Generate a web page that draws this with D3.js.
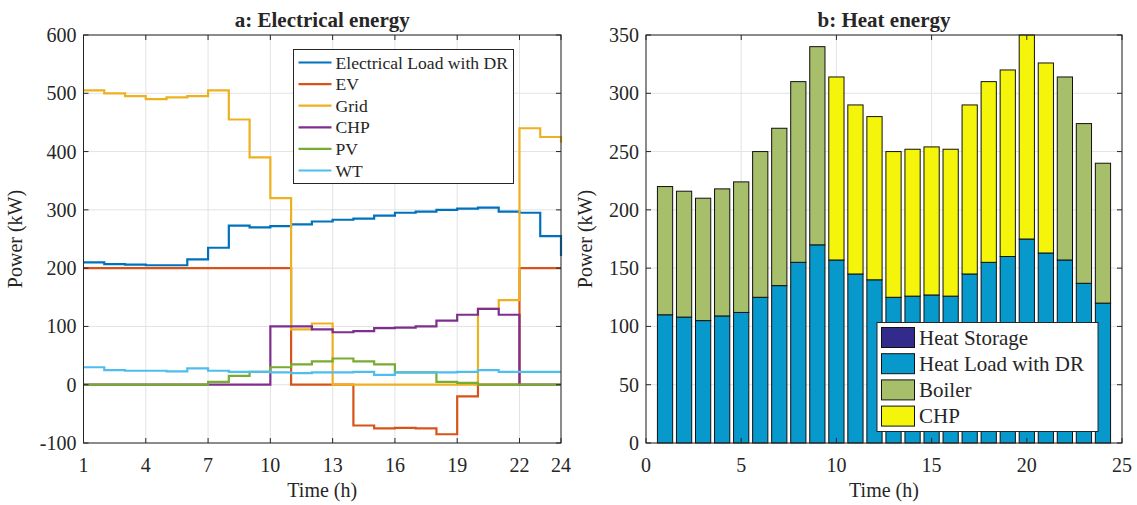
<!DOCTYPE html>
<html>
<head>
<meta charset="utf-8">
<script src="https://cdn.jsdelivr.net/npm/d3@7/dist/d3.min.js"></script>
<style>
  body { margin: 0; background: #fff; }
  text { font-family: "Liberation Serif", "Times New Roman", serif; fill: #262626; }
</style>
</head>
<body>
<div id="chart"></div>
<script>
// hours of the day
var hours = [1, 2, 3, 4, 5, 6, 7, 8, 9, 10, 11, 12, 13, 14, 15, 16, 17, 18, 19, 20, 21, 22, 23, 24];

// a: electrical energy (kW)
var elecLoad = [210, 207, 206, 205, 205, 215, 235, 273, 270, 272, 275, 280, 283, 285, 290, 295, 297, 300, 302, 304, 297, 295, 255, 221];
var evPower  = [200, 200, 200, 200, 200, 200, 200, 200, 200, 200, 0, 0, 0, -70, -75, -74, -75, -85, -20, 0, 0, 200, 200, 200];
var gridPower = [505, 500, 495, 490, 493, 495, 505, 455, 390, 320, 95, 105, 0, 0, 0, 0, 0, 0, 0, 130, 145, 440, 425, 415];
var chpElec  = [0, 0, 0, 0, 0, 0, 0, 0, 0, 100, 100, 95, 90, 92, 97, 98, 100, 110, 120, 130, 120, 0, 0, 0];
var pvPower  = [0, 0, 0, 0, 0, 0, 5, 15, 22, 30, 35, 40, 45, 40, 35, 21, 21, 5, 3, 0, 0, 0, 0, 0];
var wtPower  = [30, 25, 24, 24, 23, 28, 24, 22, 22, 21, 20, 21, 21, 22, 17, 21, 21, 21, 22, 25, 22, 22, 22, 22];
var elecNames = ["Electrical Load with DR", "EV", "Grid", "CHP", "PV", "WT"];

// b: heat energy (kW), stacked bottom to top
var heatStorage = [0, 0, 0, 0, 0, 0, 0, 0, 0, 0, 0, 0, 0, 0, 0, 0, 0, 0, 0, 0, 0, 0, 0, 0];
var heatLoad = [110, 108, 105, 109, 112, 125, 135, 155, 170, 157, 145, 140, 125, 126, 127, 126, 145, 155, 160, 175, 163, 157, 137, 120];
var boilerHeat = [110, 108, 105, 109, 112, 125, 135, 155, 170, 0, 0, 0, 0, 0, 0, 0, 0, 0, 0, 0, 0, 157, 137, 120];
var chpHeat  = [0, 0, 0, 0, 0, 0, 0, 0, 0, 157, 145, 140, 125, 126, 127, 126, 145, 155, 160, 175, 163, 0, 0, 0];
var heatNames = ["Heat Storage", "Heat Load with DR", "Boiler", "CHP"];

// ticks
var elecTicksX = [1, 4, 7, 10, 13, 16, 19, 22, 24];
var elecTicksY = [-100, 0, 100, 200, 300, 400, 500, 600];
var heatTicksX = [0, 5, 10, 15, 20, 25];
var heatTicksY = [0, 50, 100, 150, 200, 250, 300, 350];

var W = 1137, H = 505,
    yTop = 35, yBot = 443,
    axisCol = "#262626", gridCol = "#e3e3e3",
    lineCols = ["#0072BD", "#D95319", "#EDB120", "#7E2F8E", "#77AC30", "#4DBEEE"],
    barCols = ["#322b8c", "#0899cc", "#a7bf6a", "#f5f50c"];

var svg = d3.select("#chart").append("svg")
    .attr("width", W)
    .attr("height", H)
    .style("background", "#fff");

// grid + labels, matlab style
function frame(g, x, y, xt, yt, title, cx) {
  var x0 = x.range()[0], x1 = x.range()[1];
  g.selectAll(".gx").data(xt).enter().append("line")
    .attr("x1", function(d){ return x(d); }).attr("x2", function(d){ return x(d); })
    .attr("y1", yTop).attr("y2", yBot)
    .style("stroke", gridCol);
  g.selectAll(".gy").data(yt).enter().append("line")
    .attr("x1", x0).attr("x2", x1)
    .attr("y1", function(d){ return y(d); }).attr("y2", function(d){ return y(d); })
    .style("stroke", gridCol);

  g.selectAll(".tx").data(xt).enter().append("text")
    .attr("x", function(d){ return x(d); })
    .attr("y", 472)
    .attr("text-anchor", "middle")
    .style("font-size", "20px")
    .text(function(d){ return d; });
  g.selectAll(".ty").data(yt).enter().append("text")
    .attr("x", x0 - 7)
    .attr("y", function(d){ return y(d) + 7; })
    .attr("text-anchor", "end")
    .style("font-size", "20px")
    .text(function(d){ return d; });

  g.append("text")
    .attr("x", (x0 + x1) / 2).attr("y", 497)
    .attr("text-anchor", "middle")
    .style("font-size", "20px")
    .text("Time (h)");
  g.append("text")
    .attr("transform", "translate(" + cx + "," + ((yTop + yBot) / 2) + ") rotate(-90)")
    .attr("text-anchor", "middle")
    .style("font-size", "20px")
    .text("Power (kW)");
  g.append("text")
    .attr("x", (x0 + x1) / 2).attr("y", 27)
    .attr("text-anchor", "middle")
    .style("font-size", "21px")
    .style("font-weight", "bold")
    .text(title);
}

// box with inward ticks on all sides
function box(g, x, y, xt, yt) {
  var x0 = x.range()[0], x1 = x.range()[1], tl = 5;
  g.append("rect")
    .attr("x", x0).attr("y", yTop)
    .attr("width", x1 - x0).attr("height", yBot - yTop)
    .style("fill", "none").style("stroke", axisCol);
  xt.forEach(function(d){
    g.append("line").attr("x1", x(d)).attr("x2", x(d)).attr("y1", yBot).attr("y2", yBot - tl).style("stroke", axisCol);
    g.append("line").attr("x1", x(d)).attr("x2", x(d)).attr("y1", yTop).attr("y2", yTop + tl).style("stroke", axisCol);
  });
  yt.forEach(function(d){
    g.append("line").attr("x1", x0).attr("x2", x0 + tl).attr("y1", y(d)).attr("y2", y(d)).style("stroke", axisCol);
    g.append("line").attr("x1", x1).attr("x2", x1 - tl).attr("y1", y(d)).attr("y2", y(d)).style("stroke", axisCol);
  });
}

// ---- a: electrical energy
var xa = d3.scaleLinear().domain([1, 24]).range([83.5, 561]),
    ya = d3.scaleLinear().domain([-100, 600]).range([yBot, yTop]);
var ga = svg.append("g");
frame(ga, xa, ya, elecTicksX, elecTicksY, "a: Electrical energy", 22);

var stairs = d3.line()
    .x(function(d){ return xa(d[0]); })
    .y(function(d){ return ya(d[1]); })
    .curve(d3.curveStepAfter);

var elecSeries = [elecLoad, evPower, gridPower, chpElec, pvPower, wtPower];
elecSeries.forEach(function(s, k){
  ga.append("path")
    .attr("d", stairs(hours.map(function(h, i){ return [h, s[i]]; })))
    .style("fill", "none")
    .style("stroke", lineCols[k])
    .style("stroke-width", 2.2);
});
box(ga, xa, ya, elecTicksX, elecTicksY);

// legend a
var la = ga.append("g").attr("transform", "translate(293.5,49.5)");
la.append("rect").attr("width", 220).attr("height", 134)
  .style("fill", "#fff").style("stroke", "#262626");
elecNames.forEach(function(n, i){
  var yy = 13 + i * 21.6;
  la.append("line").attr("x1", 5).attr("x2", 38).attr("y1", yy).attr("y2", yy)
    .style("stroke", lineCols[i]).style("stroke-width", 2.2);
  la.append("text").attr("x", 42).attr("y", yy + 6)
    .style("font-size", "17.6px").text(n);
});

// ---- b: heat energy
var xb = d3.scaleLinear().domain([0, 25]).range([646, 1122]),
    yb = d3.scaleLinear().domain([0, 350]).range([yBot, yTop]);
var gb = svg.append("g");
frame(gb, xb, yb, heatTicksX, heatTicksY, "b: Heat energy", 592);

var stack = d3.stack().keys([0, 1, 2, 3])(hours.map(function(h, i){
  return [heatStorage[i], heatLoad[i], boilerHeat[i], chpHeat[i]];
}));
var bw = xb(0.8) - xb(0);
stack.forEach(function(layer, k){
  gb.selectAll(".b" + k).data(layer).enter().append("rect")
    .filter(function(d){ return d[1] - d[0] > 0; })
    .attr("x", function(d){ return xb(d.data === undefined ? 0 : hours[layer.indexOf(d)]) - bw / 2; })
    .attr("width", bw)
    .attr("y", function(d){ return yb(d[1]); })
    .attr("height", function(d){ return yb(d[0]) - yb(d[1]); })
    .style("fill", barCols[k])
    .style("stroke", "#111")
    .style("stroke-width", 1);
});
box(gb, xb, yb, heatTicksX, heatTicksY);

// legend b
var lb = gb.append("g").attr("transform", "translate(877,322.5)");
lb.append("rect").attr("width", 221).attr("height", 109)
  .style("fill", "#fff").style("stroke", "#262626");
heatNames.forEach(function(n, i){
  var yy = 15 + i * 26.2;
  lb.append("rect").attr("x", 4.5).attr("y", yy - 10).attr("width", 33).attr("height", 20)
    .style("fill", barCols[i]).style("stroke", "#111");
  lb.append("text").attr("x", 42).attr("y", yy + 7)
    .style("font-size", "21px").text(n);
});
</script>
</body>
</html>
